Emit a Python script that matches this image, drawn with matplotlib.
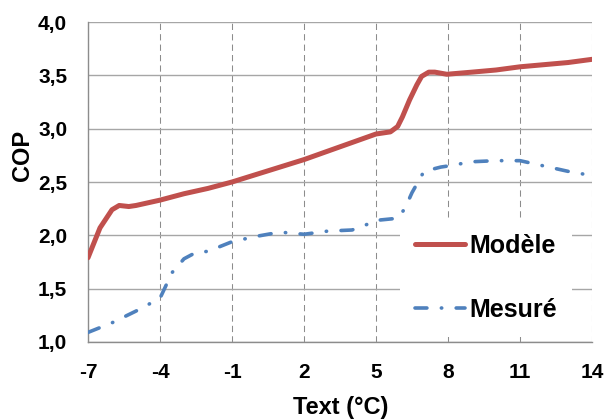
import matplotlib
matplotlib.use("Agg")
import matplotlib.pyplot as plt

plt.rcParams['font.family'] = ['Liberation Sans', 'DejaVu Sans']
plt.rcParams['font.weight'] = 'bold'

# Modèle (red, smoothed in the original)
x_model = [-7, -6.5, -6, -5.7, -5.3, -5, -4, -3, -2, -1, 0, 1, 2, 3, 4, 5,
           5.6, 5.9, 6.1, 6.4, 6.7, 6.9, 7.2, 7.45, 7.95, 9, 10, 11, 12, 13, 14]
y_model = [1.79, 2.07, 2.24, 2.28, 2.27, 2.28, 2.33, 2.39, 2.44, 2.50, 2.57, 2.64,
           2.71, 2.79, 2.87, 2.95, 2.97, 3.02, 3.11, 3.27, 3.41, 3.49, 3.53, 3.53,
           3.51, 3.53, 3.55, 3.58, 3.60, 3.62, 3.65]

# Mesuré (blue dash-dot)
x_mes = [-7, -6, -5, -4.5, -4, -3.5, -3, -2.5, -2, -1, 0, 1, 2, 3, 4, 4.5, 5, 5.9,
         6.2, 6.5, 7, 7.7, 8, 9, 10, 11, 12, 13, 14]
y_mes = [1.09, 1.18, 1.29, 1.35, 1.41, 1.65, 1.78, 1.84, 1.85, 1.94, 1.99, 2.03,
         2.01, 2.04, 2.05, 2.09, 2.14, 2.16, 2.25, 2.40, 2.60, 2.64, 2.65, 2.69,
         2.70, 2.70, 2.65, 2.60, 2.56]

xticks = [-7, -4, -1, 2, 5, 8, 11, 14]
yticks = [1.0, 1.5, 2.0, 2.5, 3.0, 3.5, 4.0]
ytick_labels = ['1,0', '1,5', '2,0', '2,5', '3,0', '3,5', '4,0']

fig = plt.figure(figsize=(6.08, 4.19), dpi=100)
ax = fig.add_axes([88/608, 1 - 342/419, 504/608, 320/419])

ax.plot(x_model, y_model, color='#C0504D', lw=3.6, solid_capstyle='round',
        solid_joinstyle='round', label='Modèle', zorder=3)
ax.plot(x_mes, y_mes, color='#4F81BD', lw=2.6, dashes=(3.3, 4.0, 0.1, 4.0),
        dash_capstyle='round', label='Mesuré', zorder=3)

ax.set_xlim(-7, 14)
ax.set_ylim(1.0, 4.0)
ax.set_xticks(xticks)
ax.set_xticklabels([str(t) for t in xticks])
ax.set_yticks(yticks)
ax.set_yticklabels(ytick_labels)
ax.tick_params(length=0, labelsize=15, pad=15)

ax.grid(axis='y', color='#a6a6a6', lw=1.0, ls='-', zorder=0)
ax.grid(axis='x', color='#8c8c8c', lw=0.75, ls=(0, (6, 4)), zorder=0)
ax.set_axisbelow(True)
for s in ['top', 'right']:
    ax.spines[s].set_visible(False)
for s in ['left', 'bottom']:
    ax.spines[s].set_color('#8c8c8c')
    ax.spines[s].set_linewidth(1.0)

leg = ax.legend(loc='upper left', bbox_to_anchor=(0.62, 0.385), fontsize=18,
                frameon=True, fancybox=False, framealpha=1, facecolor='white',
                edgecolor='none', handlelength=2.0, handletextpad=0.15,
                labelspacing=1.6, borderpad=0.6, borderaxespad=0)

fig.text(22/608, 1 - 155/419, 'COP', rotation=90, ha='center', va='center',
         fontsize=17)
fig.text(341/608, 1 - 407/419, 'Text (°C)', ha='center', va='center',
         fontsize=17)

fig.savefig('out.png', dpi=100)
